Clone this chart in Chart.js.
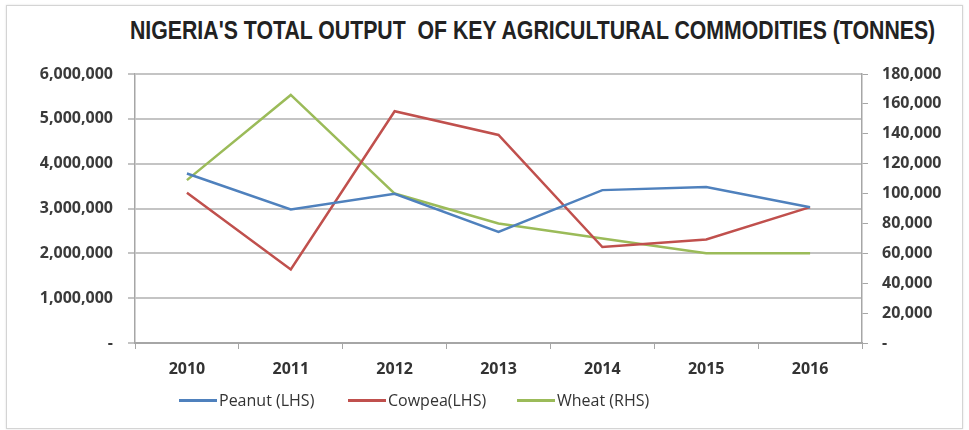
<!DOCTYPE html>
<html lang="en">
<head>
  <meta charset="UTF-8">
  <title>Nigeria's total output of key agricultural commodities</title>
  <script src="https://cdn.jsdelivr.net/npm/chart.js"></script>
  <style>
    body { margin: 0; background: #fff; }
    #wrap { position: relative; width: 969px; height: 430px; overflow: hidden; }
    #frame { position: absolute; left: 6px; top: 5px; width: 955px; height: 422px; border: 1px solid #d4d4d4; box-shadow: 0 0 2px #e0e0e0; }
    #title { position: absolute; left: 130px; top: 16px; white-space: pre; transform-origin: 0 0;
             font: bold 25px "Liberation Sans Narrow", "Liberation Sans", sans-serif; color: #222; }
    #chart { position: absolute; left: 0; top: 0; }
    #legend { position: absolute; left: 179px; top: 389px; display: flex;
              font: 16px "Open Sans", sans-serif; color: #333; }
    .item { width: 169px; display: flex; align-items: center; }
    .swatch { width: 38px; height: 3px; margin-right: 2px; }
  </style>
</head>
<body>
<div id="wrap">
  <div id="frame"></div>
  <div id="title">NIGERIA'S TOTAL OUTPUT  OF KEY AGRICULTURAL COMMODITIES (TONNES)</div>
  <canvas id="chart" width="969" height="430"></canvas>
  <div id="legend"></div>
</div>

<script>
  // data
  const years = ['2010', '2011', '2012', '2013', '2014', '2015', '2016'];
  const peanut = [3780000, 2980000, 3330000, 2480000, 3410000, 3480000, 3030000];
  const cowpea = [3350000, 1640000, 5170000, 4640000, 2140000, 2310000, 3030000];
  const wheat = [109000, 166000, 100000, 80000, 70000, 60000, 60000];

  const leftTickLabels = ['-', '1,000,000', '2,000,000', '3,000,000', '4,000,000', '5,000,000', '6,000,000'];
  const rightTickLabels = ['-', '20,000', '40,000', '60,000', '80,000', '100,000', '120,000', '140,000', '160,000', '180,000'];

  // squeeze the title to the width it has in the picture
  const title = document.getElementById('title');
  title.style.transform = 'scaleX(' + (805 / title.offsetWidth) + ')';

  Chart.defaults.font.family = "'Open Sans', sans-serif";

  const tickFont = { size: 16, weight: 'bold' };
  const gridGray = '#c4c4c4';
  const axisGray = '#a6a6a6';

  const chart = new Chart(document.getElementById('chart'), {
    type: 'line',
    data: {
      labels: years,
      datasets: [
        { label: 'Peanut (LHS)', data: peanut, borderColor: '#4f81bd', yAxisID: 'y' },
        { label: 'Cowpea(LHS)', data: cowpea, borderColor: '#c0504d', yAxisID: 'y' },
        { label: 'Wheat (RHS)', data: wheat, borderColor: '#9bbb59', yAxisID: 'y1' }
      ]
    },
    options: {
      responsive: false,
      animation: false,
      devicePixelRatio: 1,
      layout: { padding: { top: 74, bottom: 47, left: 0, right: 0 } },
      elements: {
        line: { borderWidth: 2.5, tension: 0 },
        point: { radius: 0, hoverRadius: 0 }
      },
      plugins: {
        legend: { display: false },
        tooltip: { enabled: false }
      },
      scales: {
        x: {
          offset: true,
          grid: { offset: true, drawOnChartArea: false, tickLength: 6, color: axisGray },
          border: { color: axisGray, width: 2 },
          ticks: { font: tickFont, color: '#333', padding: 11 },
          afterFit: s => { s.height = 40; }
        },
        y: {
          position: 'left',
          min: 0,
          max: 6000000,
          ticks: { stepSize: 1000000, font: tickFont, color: '#3a3a3a', padding: 15,
                   callback: (v, i) => leftTickLabels[i] },
          grid: { color: gridGray, lineWidth: 2, tickLength: 7 },
          border: { color: axisGray, width: 1.5 },
          afterFit: s => { s.width = 135; }
        },
        y1: {
          position: 'right',
          min: 0,
          max: 180000,
          ticks: { stepSize: 20000, font: tickFont, color: '#3a3a3a', padding: 14,
                   callback: (v, i) => rightTickLabels[i] },
          grid: { drawOnChartArea: false, color: axisGray, tickLength: 6 },
          border: { color: axisGray, width: 1.5 },
          afterFit: s => { s.width = 107; }
        }
      }
    }
  });

  // legend built from the chart's datasets
  const legend = document.getElementById('legend');
  chart.data.datasets.forEach(ds => {
    const item = document.createElement('div');
    item.className = 'item';
    item.innerHTML = '<span class="swatch" style="background:' + ds.borderColor + '"></span>' + ds.label;
    legend.appendChild(item);
  });
</script>
</body>
</html>
